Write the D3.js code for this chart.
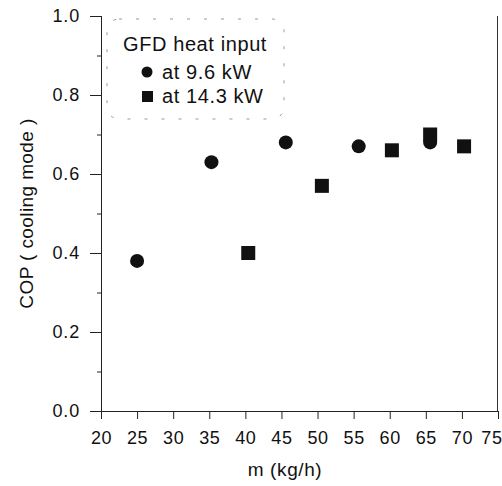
<!DOCTYPE html>
<html>
<head>
<meta charset="utf-8">
<script src="https://d3js.org/d3.v7.min.js"></script>
<style>
  body { margin: 0; background: #fff; }
  text { font-family: "Liberation Sans", Arial, sans-serif; fill: #111; }
  .axis path, .axis line { stroke: #222; }
</style>
</head>
<body>
<div id="chart_area"></div>
<script>

// Data
var m_low = [25, 35.3, 45.6, 55.7, 65.6];      // GFD heat input 9.6 kW
var cop_low = [0.38, 0.63, 0.68, 0.67, 0.68];
var m_high = [40.4, 50.6, 60.3, 65.6, 70.3];   // GFD heat input 14.3 kW
var cop_high = [0.40, 0.57, 0.66, 0.70, 0.67];

var x_ticks = [20, 25, 30, 35, 40, 45, 50, 55, 60, 65, 70, 75];
var y_ticks = [0, 0.2, 0.4, 0.6, 0.8, 1.0];
var y_minor = [0.1, 0.3, 0.5, 0.7, 0.9];

var legend_title = "GFD heat input";
var legend_labels = ["at 9.6 kW", "at 14.3 kW"];

var frame_width = 502;
var frame_height = 486;
var margin = {top: 16, right: 4, bottom: 75, left: 101};
var canvas_width = frame_width - margin.left - margin.right;
var canvas_height = frame_height - margin.top - margin.bottom;

var frame = d3.select("#chart_area").append("svg")
    .attr("width", frame_width)
    .attr("height", frame_height);

var canvas = frame.append("g")
    .attr("transform", "translate(" + margin.left + "," + margin.top + ")");

var xScale = d3.scaleLinear().domain([20, 75]).range([0, canvas_width]);
var yScale = d3.scaleLinear().domain([0, 1]).range([canvas_height, 0]);

// x axis
var xAxis = d3.axisBottom(xScale)
    .tickValues(x_ticks)
    .tickSize(8)
    .tickPadding(12)
    .tickFormat(d3.format("d"));

canvas.append("g")
    .attr("class", "x axis")
    .attr("transform", "translate(0," + canvas_height + ")")
    .call(xAxis)
    .call(function (g) {
        g.select(".domain").attr("d", "M-11,0.5H" + canvas_width);
        g.selectAll("text")
            .style("font-size", "18px")
            .style("letter-spacing", "0.6px");
        // last label sits against the page edge, as in the scan
        g.selectAll("text").filter(function (d) { return d === 75; })
            .attr("text-anchor", "end")
            .attr("dx", "4px");
    });

// y axis, minor ticks first
canvas.append("g")
    .attr("class", "y axis minor")
    .call(d3.axisLeft(yScale).tickValues(y_minor).tickSize(4).tickFormat(""))
    .call(function (g) { g.select(".domain").remove(); });

var yAxis = d3.axisLeft(yScale)
    .tickValues(y_ticks)
    .tickSize(11)
    .tickPadding(10)
    .tickFormat(d3.format(".1f"));

canvas.append("g")
    .attr("class", "y axis")
    .call(yAxis)
    .call(function (g) {
        g.select(".domain").attr("d", "M0.5," + canvas_height + "V0");
        g.selectAll("text")
            .style("font-size", "18px")
            .style("letter-spacing", "0.8px");
    });

// right frame line
canvas.append("line")
    .attr("x1", canvas_width - 0.5)
    .attr("x2", canvas_width - 0.5)
    .attr("y1", 0)
    .attr("y2", canvas_height)
    .attr("stroke", "#333");

// axis titles
frame.append("text")
    .attr("x", margin.left + xScale(45.5))
    .attr("y", 476)
    .attr("text-anchor", "middle")
    .style("font-size", "19px")
    .style("letter-spacing", "0.6px")
    .text("m (kg/h)");

frame.append("text")
    .attr("transform", "translate(33," + (margin.top + yScale(0.5)) + ") rotate(-90)")
    .attr("text-anchor", "middle")
    .style("font-size", "19px")
    .style("letter-spacing", "0.4px")
    .text("COP ( cooling mode )");

// data points
var low_pts = m_low.map(function (m, i) { return {m: m, cop: cop_low[i]}; });
var high_pts = m_high.map(function (m, i) { return {m: m, cop: cop_high[i]}; });

var data_canvas = canvas.append("g").attr("class", "data_canvas");

data_canvas.selectAll(".dot")
    .data(low_pts)
    .enter().append("circle")
    .attr("class", "dot")
    .attr("cx", function (d) { return xScale(d.m); })
    .attr("cy", function (d) { return yScale(d.cop); })
    .attr("r", 7)
    .attr("fill", "#111");

var sq = 14;
data_canvas.selectAll(".sq")
    .data(high_pts)
    .enter().append("rect")
    .attr("class", "sq")
    .attr("x", function (d) { return xScale(d.m) - sq / 2; })
    .attr("y", function (d) { return yScale(d.cop) - sq / 2; })
    .attr("width", sq)
    .attr("height", sq)
    .attr("fill", "#111");

// legend
var legend = frame.append("g").attr("transform", "translate(107,19)");

legend.append("rect")
    .attr("width", 177)
    .attr("height", 100)
    .attr("rx", 12)
    .attr("fill", "none")
    .attr("stroke", "#999")
    .attr("stroke-dasharray", "3,14");

legend.append("text")
    .attr("x", 16)
    .attr("y", 32)
    .style("font-size", "20px")
    .style("letter-spacing", "0.6px")
    .text(legend_title);

legend.append("circle")
    .attr("cx", 40)
    .attr("cy", 53)
    .attr("r", 5.5)
    .attr("fill", "#111");

legend.append("rect")
    .attr("x", 35)
    .attr("y", 72)
    .attr("width", 11)
    .attr("height", 11)
    .attr("fill", "#111");

legend.selectAll(".lab")
    .data(legend_labels)
    .enter().append("text")
    .attr("class", "lab")
    .attr("x", 55)
    .attr("y", function (d, i) { return 60 + i * 24; })
    .style("font-size", "20px")
    .style("letter-spacing", "0.6px")
    .text(function (d) { return d; });

</script>
</body>
</html>
